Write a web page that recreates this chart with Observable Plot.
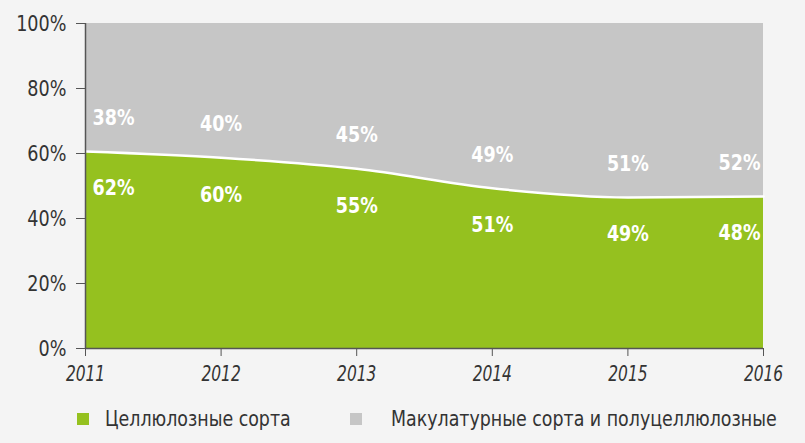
<!DOCTYPE html>
<html>
<head>
<meta charset="utf-8">
<script src="https://cdn.jsdelivr.net/npm/d3@7"></script>
<script src="https://cdn.jsdelivr.net/npm/@observablehq/plot@0.6"></script>
<style>
  html, body { margin: 0; padding: 0; background: #f4f4f4; }
  body { width: 805px; height: 443px; position: relative; overflow: hidden;
         font-family: "DejaVu Sans Condensed", "DejaVu Sans", sans-serif; }
  #chart { position: absolute; left: 0; top: 0; }
  .sw { position: absolute; width: 12px; height: 12px; }
  .lt { position: absolute; font-size: 22px; line-height: 26px; color: #333; white-space: nowrap;
        transform: scaleX(0.88); transform-origin: left center; }
</style>
</head>
<body>
<div id="chart"></div>
<div id="legend"></div>
<script>
// ---- data ----
const years = [2011, 2012, 2013, 2014, 2015, 2016];
// share of the green series as drawn (boundary between the two areas), %
const pulpShare = [60.6, 58.7, 55.3, 49.3, 46.5, 46.8];
const pulpLabels = ["62%", "60%", "55%", "51%", "49%", "48%"];
const wasteLabels = ["38%", "40%", "45%", "49%", "51%", "52%"];
const seriesNames = ["Целлюлозные сорта", "Макулатурные сорта и полуцеллюлозные"];
const seriesColors = ["#95c11f", "#c6c6c6"];
const yTicks = [0, 20, 40, 60, 80, 100];

const data = years.map((y, i) => ({
  year: y, pulp: pulpShare[i], pulpLabel: pulpLabels[i], wasteLabel: wasteLabels[i], i
}));

const FONT = '"DejaVu Sans Condensed", "DejaVu Sans", sans-serif';
const curve = "monotone-x";
const upOff = 10.2, downOff = -11.4;

function labelMarks(field, off) {
  const base = {
    y: d => d.pulp + off, text: field, fill: "white", fontWeight: "bold",
    fontSize: 21, fontFamily: FONT, lineAnchor: "middle"
  };
  return [
    Plot.text(data.filter(d => d.i === 0), {...base, x: "year", textAnchor: "start", dx: 7}),
    Plot.text(data.filter(d => d.i > 0 && d.i < years.length - 1), {...base, x: "year", textAnchor: "middle"}),
    Plot.text(data.filter(d => d.i === years.length - 1), {...base, x: "year", textAnchor: "end", dx: -3})
  ];
}

const chart = Plot.plot({
  width: 805,
  height: 400,
  marginTop: 23,
  marginBottom: 52,
  marginLeft: 85,
  marginRight: 42,
  style: { background: "transparent", color: "#333", fontFamily: FONT },
  x: { type: "linear", domain: [years[0], years[years.length - 1]] },
  y: { domain: [0, 100] },
  marks: [
    Plot.areaY(data, { x: "year", y1: 0, y2: "pulp", fill: seriesColors[0], curve }),
    Plot.areaY(data, { x: "year", y1: "pulp", y2: 100, fill: seriesColors[1], curve }),
    Plot.lineY(data, { x: "year", y: "pulp", stroke: "white", strokeWidth: 2.5, curve }),
    ...labelMarks("wasteLabel", upOff),
    ...labelMarks("pulpLabel", downOff),
    Plot.ruleX([years[0]], { y1: 0, y2: 100, stroke: "#555", strokeWidth: 1.5 }),
    Plot.ruleY([0], { stroke: "#555", strokeWidth: 1.5 }),
    Plot.axisY({ ticks: yTicks, tickFormat: d => d + "%", tickSize: 9, tickPadding: 10,
                 fontSize: 22, fontFamily: FONT, stroke: "#555", fill: "#333", label: null }),
    Plot.axisX({ ticks: years, tickFormat: d => String(d), tickSize: 8, tickPadding: 9,
                 fontSize: 22, fontStyle: "italic", fontFamily: FONT, stroke: "#555", fill: "#333", label: null })
  ]
});
document.getElementById("chart").appendChild(chart);

// condense text horizontally (reference uses a condensed face)
function squeeze(selector, s) {
  chart.querySelectorAll(selector).forEach(t => {
    let tr = t.getAttribute("transform") || "";
    const x = parseFloat(t.getAttribute("x"));
    if (!isNaN(x) && x !== 0) {
      tr += ` translate(${x},0)`;
      t.removeAttribute("x");
    }
    t.setAttribute("transform", (tr + ` scale(${s},1)`).trim());
  });
}
squeeze('g[aria-label="x-axis tick label"] text', 0.78);
squeeze('g[aria-label="y-axis tick label"] text', 0.89);
squeeze('g[aria-label="text"] text', 0.93);

// ---- legend ----
const legend = document.getElementById("legend");
const legendPos = [{ sw: 77, tx: 105 }, { sw: 350, tx: 391 }];
seriesNames.forEach((name, k) => {
  const s = document.createElement("div");
  s.className = "sw";
  s.style.left = legendPos[k].sw + "px";
  s.style.top = "413px";
  s.style.background = seriesColors[k];
  legend.appendChild(s);
  const t = document.createElement("div");
  t.className = "lt";
  t.style.left = legendPos[k].tx + "px";
  t.style.top = "406px";
  t.textContent = name;
  legend.appendChild(t);
});
</script>
</body>
</html>
